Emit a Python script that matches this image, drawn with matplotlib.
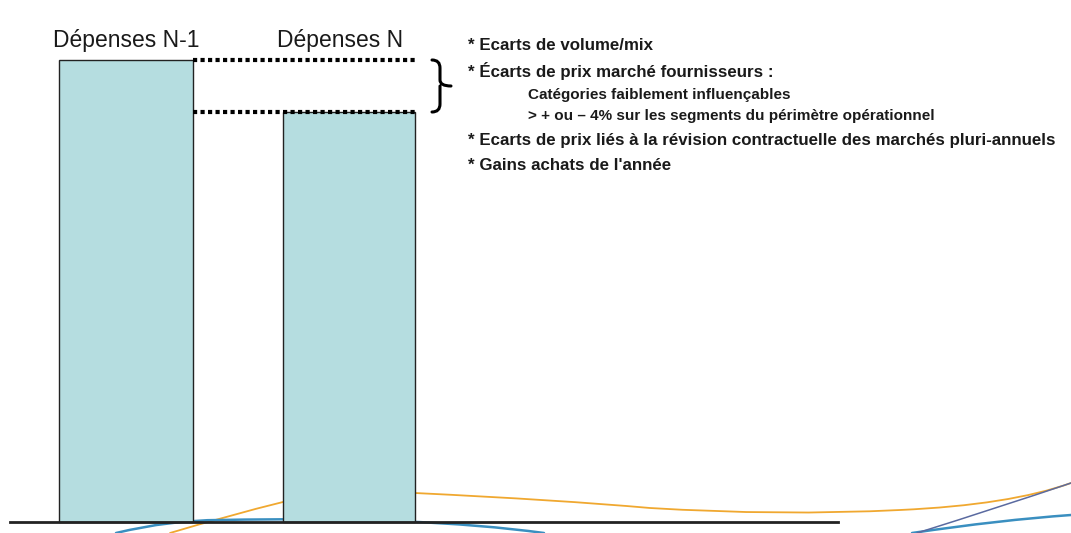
import matplotlib
matplotlib.use("Agg")
import matplotlib.pyplot as plt
from matplotlib.path import Path
from matplotlib.patches import PathPatch

plt.rcParams['font.family'] = ['Liberation Sans', 'DejaVu Sans']

# data (arbitrary units, N-1 = 100)
labels = ['Dépenses N-1', 'Dépenses N']
spend = [100, 88.7]

notes = ['* Ecarts de volume/mix',
         '* Écarts de prix marché fournisseurs :',
         'Catégories faiblement influençables',
         '> + ou – 4% sur les segments du périmètre opérationnel',
         '* Ecarts de prix liés à la révision contractuelle des marchés pluri-annuels',
         "* Gains achats de l'année"]
note_indent = [0, 0, 1, 1, 0, 0]
note_px = [45, 71, 95, 116, 140, 165]

fig = plt.figure(figsize=(10.71, 5.33), dpi=100)
ax = fig.add_axes([0, 0, 1, 1])
scale = 4.62
base_px = 522
ax.set_xlim(0, 1071)
ax.set_ylim(-11 / scale, base_px / scale)
ax.axis('off')


def py(p):
    # pixel row -> data y
    return (base_px - p) / scale


def curve(pts, codes, color, lw):
    verts = [(x, py(p)) for x, p in pts]
    ax.add_patch(PathPatch(Path(verts, codes), fc='none', ec=color, lw=lw,
                           zorder=1, capstyle='round'))


M, C3, L = Path.MOVETO, Path.CURVE3, Path.LINETO

# decorative background curves
curve([(170, 533), (230, 515), (283, 502), (340, 490), (415, 493),
       (560, 500), (650, 508), (780, 516), (900, 510), (1010, 505),
       (1071, 483)],
      [M] + [C3] * 10, '#f0a830', 1.3)
curve([(116, 533), (170, 520), (220, 520), (420, 516), (544, 533)],
      [M, C3, C3, C3, C3], '#3a8fc0', 1.8)
curve([(912, 533), (1000, 520), (1071, 515)], [M, C3, C3], '#3a8fc0', 1.8)
curve([(917, 533), (1000, 507), (1071, 483)], [M, C3, C3], '#5a6aa0', 1.1)

# bars
xs = [126, 349]
widths = [134, 132]
ax.bar(xs, spend, width=widths, color='#b5dde0', edgecolor='#222222',
       linewidth=1.0, zorder=2)
label_x = [126, 340]
for x, lab in zip(label_x, labels):
    ax.text(x, py(40), lab, ha='center', va='center', fontsize=16.5,
            color='#1a1a1a')

# baseline
ax.plot([10, 838], [0, 0], color='#222222', lw=2, zorder=3)

# dotted connectors
for v in spend:
    ax.plot([193, 415], [v, v], color='black', lw=3.0, ls=(0, (1.0, 0.8)),
            dash_capstyle='butt', zorder=4)

# curly brace between the two levels
curve([(432, 60), (440, 60), (440, 68), (440, 80), (440, 86), (451, 86),
       (440, 86), (440, 92), (440, 104), (440, 112), (432, 112)],
      [M, C3, C3, L, C3, C3, M, C3, L, C3, C3],
      'black', 2.2)

# notes
for t, ind, p in zip(notes, note_indent, note_px):
    if ind:
        ax.text(528, py(p), t, fontsize=11.0, fontweight='bold',
                va='center', color='#1a1a1a')
    else:
        ax.text(468, py(p), t, fontsize=12.2, fontweight='bold',
                va='center', color='#1a1a1a')

fig.savefig('out.png', dpi=100)
